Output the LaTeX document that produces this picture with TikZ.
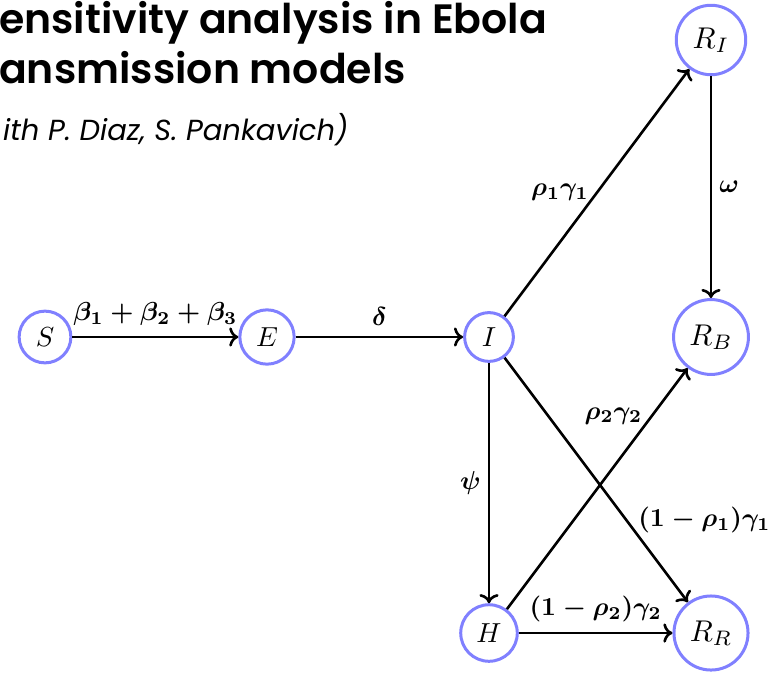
\documentclass[tikz,border=0pt]{standalone}
\usepackage{fontspec}
\usepackage{graphicx}
\newfontfamily\titlefont{Poppins SemiBold}
\newfontfamily\titleit{Poppins}
\usetikzlibrary{arrows.meta}
\newcommand{\nodemath}[1]{\scalebox{2.75}{$#1$}}
\newcommand{\rnodemath}[1]{\scalebox{3.0}{$#1$}}
\newcommand{\edgemath}[1]{\scalebox{2.6}{\boldmath$#1$}}
\begin{document}
\begin{tikzpicture}[x=1pt,y=-1pt,
  state/.style={circle, draw=blue!50, line width=3pt, inner sep=9pt},
  flow/.style={-{Computer Modern Rightarrow[scale=1.25]}, line width=2.6pt},
  lbl/.style={inner sep=7pt},
  hlbl/.style={inner sep=10pt},
  titleA/.style={anchor=base west, inner sep=0pt, font=\titlefont\fontsize{41}{44}\selectfont},
  titleB/.style={anchor=base west, inner sep=0pt, font=\titleit\itshape\fontsize{29}{32}\selectfont}]
\useasboundingbox (0,0) rectangle (771,672);
\clip (0,0) rectangle (771,672);

\node[titleA] (t1) at (-1,33) {ensitivity analysis in Ebola};
\node[titleA] (t2) at (-1,83) {ansmission models};
\node[titleB] (t3) at (3,140) {ith P. Diaz, S. Pankavich)};

\node[state] (S)  at (45,337)  {\nodemath{S}};
\node[state] (E)  at (267,337) {\nodemath{E}};
\node[state] (I)  at (489,337) {\nodemath{I}};
\node[state] (RB) at (711,337) {\rnodemath{R_B}};
\node[state] (RI) at (711,40)  {\rnodemath{R_I}};
\node[state] (H)  at (489,633) {\nodemath{H}};
\node[state] (RR) at (711,633) {\rnodemath{R_R}};

\draw[flow] (S) -- node[hlbl, above] {\edgemath{\beta_1+\beta_2+\beta_3}} (E);
\draw[flow] (E) -- node[hlbl, above] {\edgemath{\delta}} (I);
\draw[flow] (I) -- node[lbl, left] {\edgemath{\rho_1\gamma_1}} (RI);
\draw[flow] (RI) -- node[lbl, right] {\edgemath{\omega}} (RB);
\draw[flow] (I) -- node[lbl, left] {\edgemath{\psi}} (H);
\draw[flow] (H) -- node[lbl, pos=0.75, above left, xshift=8pt, yshift=-4pt] {\edgemath{\rho_2\gamma_2}} (RB);
\draw[flow] (I) -- node[lbl, pos=0.75, above right, xshift=-12pt] {\edgemath{(1-\rho_1)\gamma_1}} (RR);
\draw[flow] (H) -- node[hlbl, above] {\edgemath{(1-\rho_2)\gamma_2}} (RR);
\end{tikzpicture}
\end{document}
